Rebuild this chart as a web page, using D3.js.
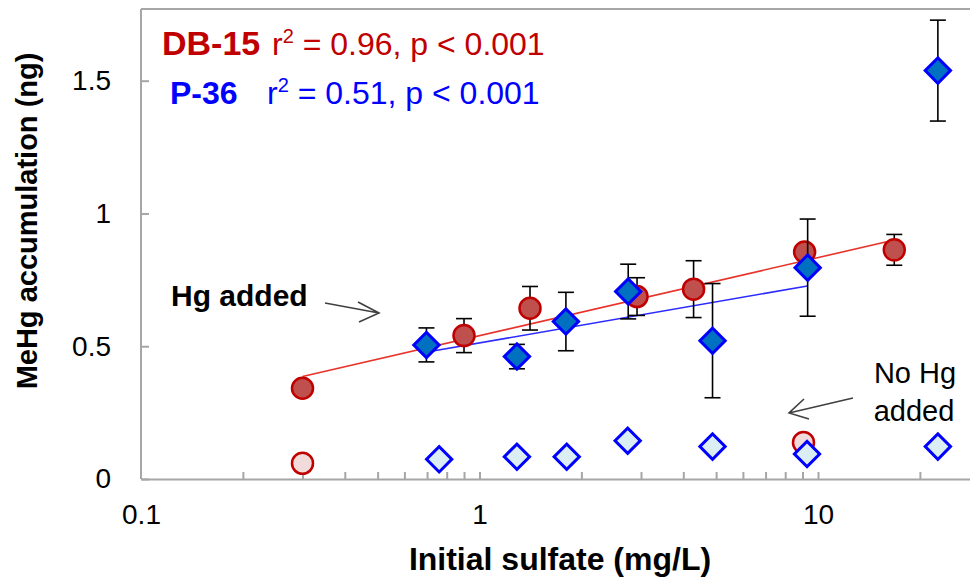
<!DOCTYPE html>
<html>
<head>
<meta charset="utf-8">
<script src="https://cdn.jsdelivr.net/npm/d3@7"></script>
<style>
  body { margin: 0; background: #fff; }
  svg { display: block; font-family: "Liberation Sans", Arial, sans-serif; }
  .axis path, .axis line { stroke: #a6a6a6; stroke-width: 2; }
  .axis text { font-size: 28px; fill: #000; font-family: "Liberation Sans", Arial, sans-serif; }
</style>
</head>
<body>
<script>
// DB-15, Hg added
const dbX = [0.30, 0.90, 1.41, 2.92, 4.29, 9.13, 16.8];
const dbY = [0.342, 0.540, 0.643, 0.687, 0.715, 0.855, 0.863];
const dbErr = [0, 0.064, 0.082, 0.071, 0.107, 0, 0.058];
// P-36, Hg added
const pX = [0.697, 1.29, 1.80, 2.75, 4.88, 9.32, 22.6];
const pY = [0.505, 0.461, 0.593, 0.706, 0.521, 0.796, 1.538];
const pErr = [0.064, 0.046, 0.11, 0.103, 0.215, 0.183, 0.19];
// no Hg added
const dbNoX = [0.30, 9.06];
const dbNoY = [0.059, 0.137];
const pNoX = [0.76, 1.29, 1.81, 2.74, 4.88, 9.28, 22.6];
const pNoY = [0.074, 0.084, 0.084, 0.144, 0.122, 0.094, 0.122];
// trend lines (end points)
const dbFit = [[0.30, 0.386], [16.8, 0.90]];
const pFit = [[0.70, 0.478], [9.3, 0.727]];
// axes
const xLabels = [0.1, 1, 10];
const yTicks = [0, 0.5, 1, 1.5];

const width = 970;
const height = 584;

const svg = d3
  .select("body")
  .append("svg")
  .attr("width", width)
  .attr("height", height);

// plot runs off the right edge, like the original picture
const x = d3.scaleLog().domain([0.1, 100]).range([141, 141 + 338.5 * 3]);
const y = d3.scaleLinear().domain([0, 1.77]).range([479, 9]);

const xAxis = d3
  .axisBottom(x)
  .tickValues(x.ticks())
  .tickFormat(d => (xLabels.includes(d) ? d3.format("")(d) : ""))
  .tickSizeInner(-7)
  .tickSizeOuter(0)
  .tickPadding(25);

svg
  .append("g")
  .attr("class", "axis")
  .attr("transform", `translate(0,${y(0)})`)
  .call(xAxis)
  .call(g => g.selectAll(".tick").filter(d => d === 0.1).select("line").remove());

svg
  .append("g")
  .attr("class", "axis")
  .attr("transform", `translate(${x(0.1)},0)`)
  .call(
    d3
      .axisLeft(y)
      .tickValues(yTicks)
      .tickFormat(d3.format(""))
      .tickSizeInner(-8)
      .tickSizeOuter(0)
      .tickPadding(30)
  )
  .call(g => g.select(".domain").attr("d", `M0,${y(0)}V${y(1.77)}`));

// top border of the plot area
svg
  .append("line")
  .attr("x1", x(0.1))
  .attr("x2", width)
  .attr("y1", y(1.77))
  .attr("y2", y(1.77))
  .attr("stroke", "#a6a6a6")
  .attr("stroke-width", 2);

// trend lines
const line = d3.line().x(d => x(d[0])).y(d => y(d[1]));
svg.append("path").attr("d", line(dbFit)).attr("fill", "none").attr("stroke", "#e8332b").attr("stroke-width", 1.6);
svg.append("path").attr("d", line(pFit)).attr("fill", "none").attr("stroke", "#2b2bff").attr("stroke-width", 1.6);

function drawErrorBars(xs, ys, errs) {
  const g = svg.append("g").attr("stroke", "#000").attr("stroke-width", 1.6);
  xs.forEach((xv, i) => {
    if (!errs[i]) return;
    const cx = x(xv);
    const top = y(ys[i] + errs[i]);
    const bot = y(ys[i] - errs[i]);
    g.append("line").attr("x1", cx).attr("x2", cx).attr("y1", top).attr("y2", bot);
    [top, bot].forEach(yy =>
      g.append("line").attr("x1", cx - 8).attr("x2", cx + 8).attr("y1", yy).attr("y2", yy)
    );
  });
}

function drawCircles(xs, ys, fill) {
  svg
    .append("g")
    .selectAll("circle")
    .data(xs)
    .join("circle")
    .attr("cx", d => x(d))
    .attr("cy", (d, i) => y(ys[i]))
    .attr("r", 10.5)
    .attr("fill", fill)
    .attr("stroke", "#c00000")
    .attr("stroke-width", 2.5);
}

const diamond = d3.symbol(d3.symbolSquare, 320);
function drawDiamonds(xs, ys, fill) {
  svg
    .append("g")
    .selectAll("path")
    .data(xs)
    .join("path")
    .attr("d", diamond)
    .attr("transform", (d, i) => `translate(${x(d)},${y(ys[i])}) rotate(45)`)
    .attr("fill", fill)
    .attr("stroke", "#0000ff")
    .attr("stroke-width", 3);
}

drawCircles(dbNoX, dbNoY, "#f2dcdb");
drawDiamonds(pNoX, pNoY, "#daeef3");
drawErrorBars(dbX, dbY, dbErr);
drawCircles(dbX, dbY, "#c0504d");
drawErrorBars(pX, pY, pErr);
drawDiamonds(pX, pY, "#0070c0");

// axis titles
svg
  .append("text")
  .attr("x", 560)
  .attr("y", 570)
  .attr("text-anchor", "middle")
  .attr("font-size", 32)
  .attr("font-weight", "bold")
  .text("Initial sulfate (mg/L)");

svg
  .append("text")
  .attr("transform", "translate(37,221) rotate(-90)")
  .attr("text-anchor", "middle")
  .attr("font-size", 29)
  .attr("font-weight", "bold")
  .text("MeHg accumulation (ng)");

// statistics
function statLabel(name, stat, color, nx, sx, by, nameSize) {
  const t = svg.append("text").attr("y", by).attr("fill", color).attr("font-size", 32);
  t.append("tspan").attr("x", nx).attr("font-weight", "bold").attr("font-size", nameSize).text(name);
  t.append("tspan").attr("x", sx).text("r");
  t.append("tspan").attr("font-size", 20).attr("dy", -12).text("2");
  t.append("tspan").attr("dy", 12).text(stat);
}
statLabel("DB-15", " = 0.96, p < 0.001", "#c00000", 162, 272, 55, 34);
statLabel("P-36", " = 0.51, p < 0.001", "#0000ff", 170, 267, 104, 32);

// annotations
svg
  .append("text")
  .attr("x", 171)
  .attr("y", 306)
  .attr("font-size", 30)
  .attr("font-weight", "bold")
  .text("Hg added");

const noHg = svg.append("text").attr("font-size", 29).attr("text-anchor", "middle");
noHg.append("tspan").attr("x", 915).attr("y", 383).text("No Hg");
noHg.append("tspan").attr("x", 914).attr("y", 421).text("added");

const arrow = svg.append("g").attr("stroke", "#404040").attr("stroke-width", 1.6).attr("fill", "none");
arrow.append("path").attr("d", "M325,303L379,313M358,302L379,313L359,322");
arrow.append("path").attr("d", "M853,398L789,413M804,399L789,413L809,419");
</script>
</body>
</html>
